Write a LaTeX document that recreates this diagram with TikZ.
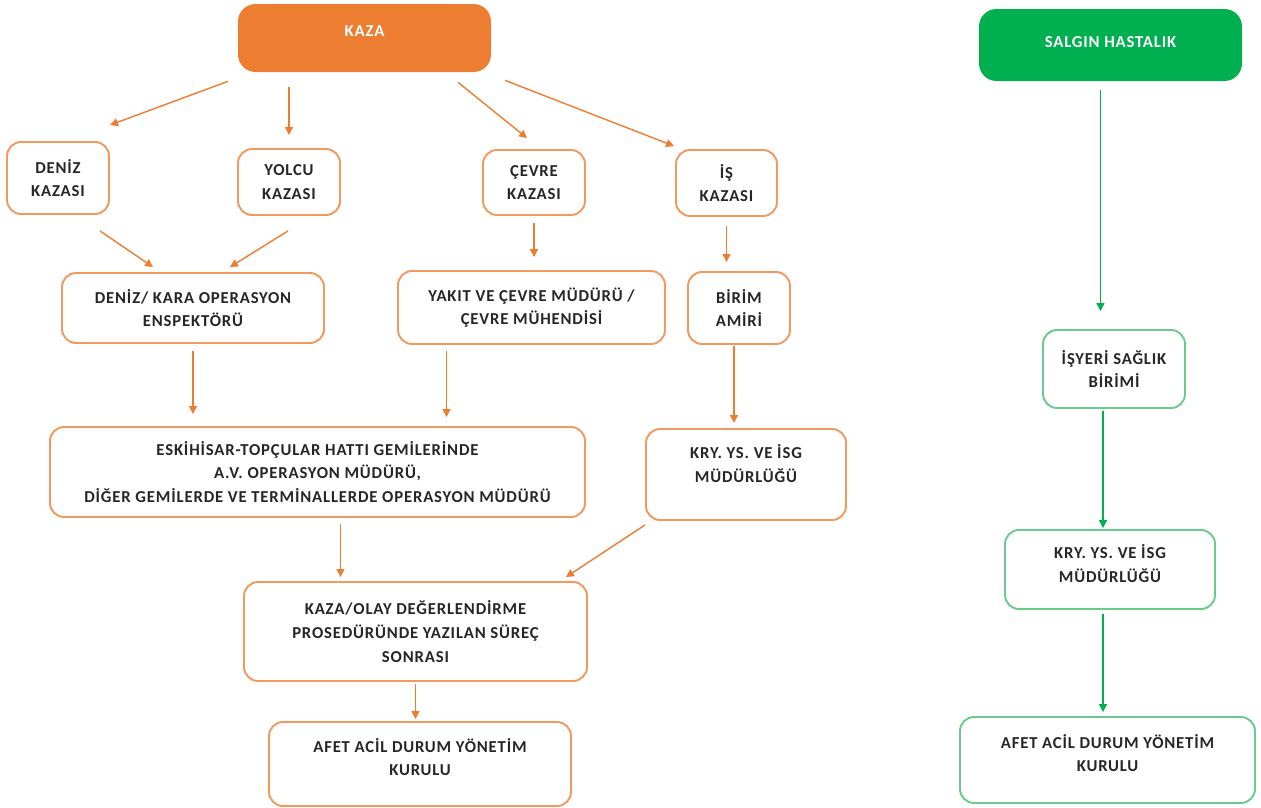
\documentclass[tikz,border=0pt]{standalone}
\usepackage{fontspec}
\setmainfont{Carlito}
\usepackage{tikz}
\usetikzlibrary{positioning, arrows.meta, calc}
\definecolor{kazaorange}{HTML}{ED7D31}
\definecolor{orangeline}{HTML}{F29A5E}
\definecolor{salgingreen}{HTML}{00B050}
\definecolor{greenline}{HTML}{6CCB8C}
\definecolor{boxtext}{HTML}{262626}
\newcommand{\boxfont}{\fontsize{9.5}{13.5}\selectfont\addfontfeatures{LetterSpace=5}\bfseries}
\tikzset{
    headbox/.style={rounded corners=10pt, draw=none, text=white, font=\boxfont, align=center},
    obox/.style={rounded corners=8pt, draw=orangeline, line width=1.1pt, fill=white, text=boxtext, font=\boxfont, align=center},
    gbox/.style={obox, draw=greenline},
    lift/.style={text depth=#1},
    oarrow/.style={-{Triangle[length=4.5pt, width=4.5pt]}, line width=0.8pt, kazaorange},
    garrow/.style={-{Triangle[length=4.5pt, width=4.5pt]}, line width=0.8pt, salgingreen}
}
\begin{document}
\begin{tikzpicture}
    \useasboundingbox (0,0) rectangle (25.22,-16.16);

    % Top boxes
    \node[headbox, fill=kazaorange, minimum width=5.06cm, minimum height=1.36cm, lift=0.28cm] (kaza) at (7.29,-0.76) {KAZA};
    \node[headbox, fill=salgingreen, minimum width=5.26cm, minimum height=1.44cm, lift=0.12cm] (salgin) at (22.21,-0.90) {SALGIN HASTALIK};

    % Accident types
    \node[obox, minimum width=2.04cm, minimum height=1.44cm] (deniz) at (1.16,-3.56) {DENİZ\\KAZASI};
    \node[obox, minimum width=2.04cm, minimum height=1.32cm] (yolcu) at (5.78,-3.64) {YOLCU\\KAZASI};
    \node[obox, minimum width=2.04cm, minimum height=1.30cm] (cevre) at (10.68,-3.65) {ÇEVRE\\KAZASI};
    \node[obox, minimum width=2.02cm, minimum height=1.32cm] (isk) at (14.53,-3.66) {İŞ\\KAZASI};

    % Second level
    \node[obox, minimum width=5.24cm, minimum height=1.40cm] (ensp) at (3.86,-6.16) {DENİZ/ KARA OPERASYON\\ENSPEKTÖRÜ};
    \node[obox, minimum width=5.34cm, minimum height=1.46cm] (yakit) at (10.63,-6.15) {YAKIT VE ÇEVRE MÜDÜRÜ /\\ÇEVRE MÜHENDİSİ};
    \node[obox, minimum width=2.04cm, minimum height=1.44cm] (birim) at (14.78,-6.16) {BİRİM\\AMİRİ};

    % Third level
    \node[obox, minimum width=10.70cm, minimum height=1.80cm] (eskihisar) at (6.35,-9.44) {ESKİHİSAR-TOPÇULAR HATTI GEMİLERİNDE\\A.V. OPERASYON MÜDÜRÜ,\\DİĞER GEMİLERDE VE TERMİNALLERDE OPERASYON MÜDÜRÜ};
    \node[obox, minimum width=4.00cm, minimum height=1.82cm, lift=0.44cm] (kryl) at (14.92,-9.49) {KRY. YS. VE İSG\\MÜDÜRLÜĞÜ};

    % Bottom
    \node[obox, minimum width=6.86cm, minimum height=1.98cm] (olay) at (8.31,-12.63) {KAZA/OLAY DEĞERLENDİRME\\PROSEDÜRÜNDE YAZILAN SÜREÇ\\SONRASI};
    \node[obox, minimum width=6.04cm, minimum height=1.68cm, lift=0.28cm] (afetl) at (8.40,-15.28) {AFET ACİL DURUM YÖNETİM\\KURULU};

    % Epidemic column
    \node[gbox, minimum width=2.84cm, minimum height=1.56cm] (isyeri) at (22.28,-7.38) {İŞYERİ SAĞLIK\\BİRİMİ};
    \node[gbox, minimum width=4.20cm, minimum height=1.58cm, lift=0.24cm] (kryr) at (22.20,-11.39) {KRY. YS. VE İSG\\MÜDÜRLÜĞÜ};
    \node[gbox, minimum width=5.90cm, minimum height=1.72cm, lift=0.28cm] (afetr) at (22.15,-15.20) {AFET ACİL DURUM YÖNETİM\\KURULU};

    % Arrows from KAZA
    \draw[oarrow] ($(kaza.south)+(-2.73,-0.18)$) -- ($(deniz.north)+(1.04,0.32)$);
    \draw[oarrow, shorten <=0.30cm, shorten >=0.26cm] (kaza.south -| yolcu.north) -- (yolcu.north);
    \draw[oarrow] ($(kaza.south)+(1.87,-0.20)$) -- ($(cevre.north)+(-0.14,0.22)$);
    \draw[oarrow] ($(kaza.south)+(2.81,-0.16)$) -- ($(isk.north)+(-1.05,0.06)$);

    % Accident types to second level
    \draw[oarrow] ($(deniz.south)+(0.84,-0.32)$) -- ($(ensp.north)+(-0.80,0.10)$);
    \draw[oarrow] ($(yolcu.south)+(-0.02,-0.30)$) -- ($(ensp.north)+(0.74,0.10)$);
    \draw[oarrow, shorten <=0.14cm, shorten >=0.26cm] (cevre.south) -- (cevre.south |- yakit.north);
    \draw[oarrow, shorten <=0.18cm, shorten >=0.18cm] (isk.south) -- (isk.south |- birim.north);

    % Second level to third level
    \draw[oarrow, shorten <=0.14cm, shorten >=0.24cm] (ensp.south) -- (ensp.south |- eskihisar.north);
    \draw[oarrow, shorten <=0.12cm, shorten >=0.18cm] ([xshift=-1.70cm]yakit.south) -- ([xshift=-1.70cm]yakit.south |- eskihisar.north);
    \draw[oarrow, shorten <=0.02cm, shorten >=0.10cm] ([xshift=-0.10cm]birim.south) -- ([xshift=-0.10cm]birim.south |- kryl.north);

    % To the evaluation box and the board
    \draw[oarrow, shorten <=0.12cm, shorten >=0.08cm] ([xshift=0.46cm]eskihisar.south) -- ([xshift=0.46cm]eskihisar.south |- olay.north);
    \draw[oarrow] ($(kryl.south)+(-2.02,-0.08)$) -- ($(olay.north)+(3.01,0.08)$);
    \draw[oarrow, shorten <=0.04cm, shorten >=0.04cm] (olay.south) -- (olay.south |- afetl.north);

    % Epidemic chain
    \draw[garrow, shorten <=0.18cm, shorten >=0.36cm] ([xshift=-0.20cm]salgin.south) -- ([xshift=-0.20cm]salgin.south |- isyeri.north);
    \draw[garrow, shorten <=0.04cm, shorten >=0.02cm] ([xshift=-0.22cm]isyeri.south) -- ([xshift=-0.22cm]isyeri.south |- kryr.north);
    \draw[garrow, shorten <=0.08cm, shorten >=0.08cm] ([xshift=-0.14cm]kryr.south) -- ([xshift=-0.14cm]kryr.south |- afetr.north);
\end{tikzpicture}
\end{document}
